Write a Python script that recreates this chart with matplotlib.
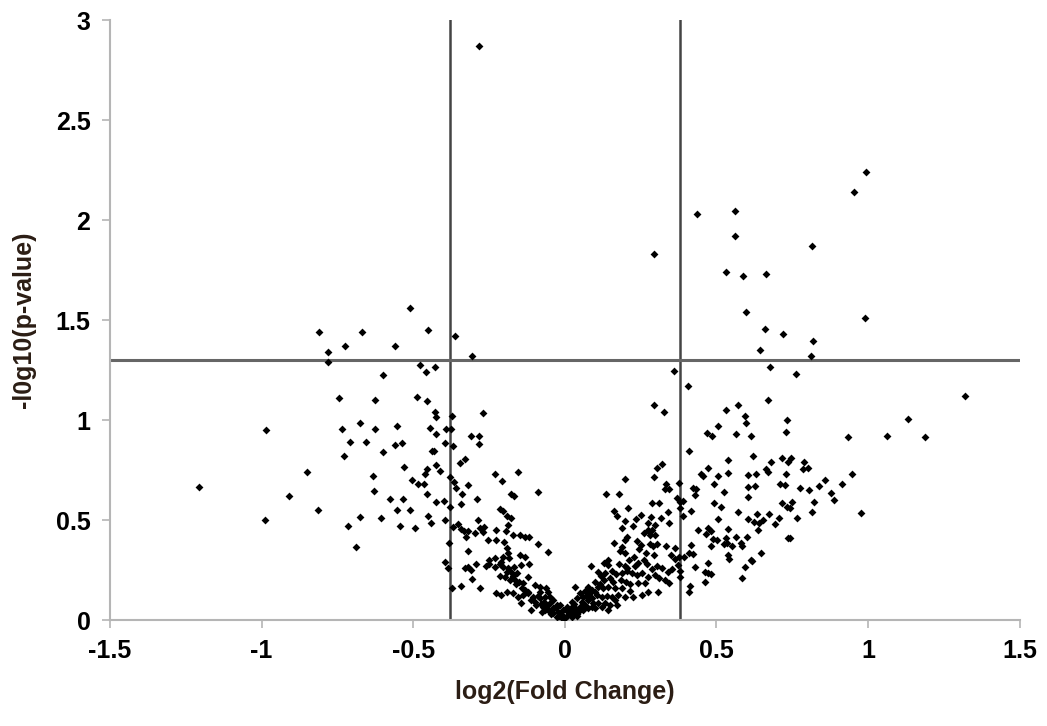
import numpy as np
import matplotlib.pyplot as plt

# thresholds drawn as guide lines
fc_cut = 0.38
p_cut = 1.301

# (log2 fold change, -log10 p), grouped by region
top_points = [(-0.283, 2.87), (0.294, 1.83), (0.436, 2.03), (0.56, 2.045), (0.56, 1.92),
              (0.815, 1.87), (0.955, 2.14), (0.993, 2.24), (0.531, 1.743), (0.588, 1.72),
              (0.664, 1.73), (0.596, 1.54), (0.989, 1.51), (-0.51, 1.56)]

left_upper = [(-0.81, 1.44), (-0.78, 1.34), (-0.78, 1.29), (-0.745, 1.11), (-0.985, 0.95),
              (-0.67, 1.44), (-0.45, 1.45), (-0.725, 1.37), (-0.56, 1.37), (-0.363, 1.42),
              (-0.305, 1.32), (-0.476, 1.275), (-0.428, 1.267), (-0.458, 1.24), (-0.60, 1.225),
              (-0.626, 1.10), (-0.487, 1.115), (-0.456, 1.095), (-0.427, 1.04), (-0.426, 1.015),
              (-0.373, 1.02), (-0.27, 1.035), (-0.674, 0.985), (-0.735, 0.955), (-0.625, 0.957),
              (-0.552, 0.97), (-0.445, 0.96), (-0.426, 0.933), (-0.393, 0.958), (-0.374, 0.955),
              (-0.31, 0.92), (-0.283, 0.92)]

left_outer = [(-1.205, 0.665), (-0.85, 0.74), (-0.91, 0.62), (-0.815, 0.55), (-0.99, 0.50)]

left_lower = [(-0.710, 0.892), (-0.657, 0.892), (-0.559, 0.877), (-0.537, 0.885), (-0.394, 0.883),
              (-0.368, 0.87), (-0.283, 0.88), (-0.727, 0.818), (-0.598, 0.838), (-0.439, 0.845),
              (-0.43, 0.847), (-0.532, 0.765), (-0.347, 0.787), (-0.328, 0.803), (-0.424, 0.775),
              (-0.413, 0.747), (-0.453, 0.753), (-0.462, 0.728), (-0.634, 0.722), (-0.504, 0.702),
              (-0.485, 0.678), (-0.463, 0.68), (-0.38, 0.713), (-0.365, 0.692), (-0.36, 0.662),
              (-0.318, 0.673), (-0.231, 0.732), (-0.208, 0.695), (-0.156, 0.738), (-0.087, 0.642),
              (-0.628, 0.647), (-0.456, 0.63), (-0.339, 0.632), (-0.289, 0.607), (-0.178, 0.63),
              (-0.168, 0.62), (-0.577, 0.603), (-0.535, 0.603), (-0.424, 0.59), (-0.399, 0.597),
              (-0.344, 0.582), (-0.38, 0.563), (-0.554, 0.552), (-0.509, 0.55), (-0.214, 0.553),
              (-0.204, 0.545), (-0.674, 0.517), (-0.606, 0.508), (-0.45, 0.518), (-0.44, 0.483),
              (-0.396, 0.50), (-0.288, 0.50), (-0.192, 0.52), (-0.176, 0.508), (-0.714, 0.47),
              (-0.542, 0.472), (-0.494, 0.46), (-0.368, 0.467), (-0.352, 0.48), (-0.343, 0.455),
              (-0.333, 0.447), (-0.319, 0.445), (-0.327, 0.417), (-0.297, 0.433), (-0.28, 0.458),
              (-0.267, 0.463), (-0.271, 0.442), (-0.226, 0.45), (-0.195, 0.447), (-0.187, 0.475),
              (-0.171, 0.425), (-0.149, 0.425), (-0.132, 0.417), (-0.118, 0.413), (-0.253, 0.40),
              (-0.226, 0.40), (-0.2, 0.392), (-0.689, 0.367), (-0.381, 0.383), (-0.319, 0.345),
              (-0.192, 0.358), (-0.187, 0.337), (-0.087, 0.38), (-0.054, 0.34), (-0.149, 0.325),
              (-0.132, 0.317), (-0.203, 0.317), (-0.184, 0.308), (-0.396, 0.292), (-0.385, 0.258),
              (-0.330, 0.258), (-0.319, 0.263), (-0.311, 0.25), (-0.294, 0.28), (-0.259, 0.27),
              (-0.25, 0.28), (-0.229, 0.263), (-0.215, 0.28), (-0.203, 0.267), (-0.187, 0.258),
              (-0.167, 0.267), (-0.143, 0.275), (-0.118, 0.28), (-0.176, 0.242), (-0.157, 0.233),
              (-0.305, 0.203), (-0.28, 0.158), (-0.371, 0.158), (-0.343, 0.17), (-0.215, 0.22),
              (-0.198, 0.213), (-0.182, 0.20), (-0.165, 0.20), (-0.151, 0.192), (-0.138, 0.183),
              (-0.120, 0.213), (-0.099, 0.175), (-0.083, 0.167), (-0.061, 0.158), (-0.056, 0.142),
              (-0.226, 0.133), (-0.209, 0.125), (-0.192, 0.142), (-0.171, 0.133), (-0.154, 0.117),
              (-0.138, 0.125), (-0.121, 0.133), (-0.105, 0.117), (-0.083, 0.108), (-0.066, 0.117),
              (-0.05, 0.117), (-0.143, 0.083), (-0.11, 0.05), (-0.094, 0.075), (-0.072, 0.067),
              (-0.05, 0.083), (-0.076, 0.042), (-0.054, 0.05), (-0.038, 0.058), (-0.027, 0.075),
              (-0.038, 0.033), (-0.022, 0.042), (-0.011, 0.025), (-0.027, 0.017), (-0.005, 0.05),
              (-0.016, 0.075), (-0.083, 0.142), (-0.038, 0.10)]

# dense band around the bottom of the V
center_band = [(-0.25, 0.30), (-0.23, 0.31), (-0.21, 0.29), (-0.19, 0.24), (-0.17, 0.22),
               (-0.16, 0.18), (-0.14, 0.16), (-0.13, 0.15), (-0.12, 0.14), (-0.11, 0.10),
               (-0.10, 0.09), (-0.09, 0.12), (-0.08, 0.08), (-0.07, 0.09), (-0.065, 0.05),
               (-0.06, 0.07), (-0.045, 0.03), (-0.03, 0.06), (-0.02, 0.02), (-0.01, 0.01),
               (-0.015, 0.035), (0.01, 0.04), (0.02, 0.06), (0.03, 0.08), (0.04, 0.03),
               (0.055, 0.09), (0.07, 0.12), (0.08, 0.13), (0.09, 0.11), (0.10, 0.14),
               (0.115, 0.18), (0.13, 0.20), (0.15, 0.21), (0.16, 0.19), (0.17, 0.23),
               (0.185, 0.20), (0.20, 0.19), (0.21, 0.30), (0.23, 0.27), (0.26, 0.30)]

right_upper = [(0.644, 1.353), (0.677, 1.265), (0.359, 1.245), (0.407, 1.17), (0.67, 1.10),
               (0.295, 1.078), (0.326, 1.04), (0.571, 1.075), (0.532, 1.05), (0.593, 1.02),
               (0.597, 0.987), (0.506, 0.972), (0.468, 0.938), (0.485, 0.922), (0.565, 0.93),
               (0.613, 0.92), (0.733, 1.0), (0.729, 0.94), (0.66, 1.455), (0.719, 1.43),
               (0.817, 1.397), (0.811, 1.32), (0.763, 1.23)]

right_outer = [(1.321, 1.12), (1.131, 1.008), (0.933, 0.915), (1.063, 0.92), (1.189, 0.915),
               (0.746, 0.81), (0.788, 0.79), (0.786, 0.753), (0.803, 0.76), (0.946, 0.73),
               (0.857, 0.70), (0.838, 0.668), (0.776, 0.66), (0.805, 0.648), (0.913, 0.678),
               (0.878, 0.633), (0.889, 0.60), (0.75, 0.59), (0.743, 0.56), (0.82, 0.59),
               (0.815, 0.54), (0.976, 0.535), (0.765, 0.51), (0.743, 0.41)]

right_lower = [(0.41, 0.847), (0.619, 0.82), (0.538, 0.802), (0.716, 0.808), (0.737, 0.79),
               (0.681, 0.79), (0.662, 0.755), (0.671, 0.742), (0.471, 0.76), (0.448, 0.73),
               (0.454, 0.72), (0.537, 0.737), (0.506, 0.72), (0.604, 0.727), (0.63, 0.728),
               (0.729, 0.73), (0.32, 0.78), (0.303, 0.762), (0.294, 0.715), (0.197, 0.703),
               (0.493, 0.682), (0.604, 0.667), (0.627, 0.672), (0.711, 0.682), (0.726, 0.677),
               (0.334, 0.678), (0.329, 0.655), (0.344, 0.655), (0.375, 0.687), (0.421, 0.658),
               (0.432, 0.655), (0.525, 0.64), (0.136, 0.63), (0.179, 0.63), (0.43, 0.623),
               (0.603, 0.613), (0.369, 0.608), (0.38, 0.59), (0.39, 0.597), (0.493, 0.583),
               (0.515, 0.567), (0.717, 0.587), (0.734, 0.567), (0.287, 0.583), (0.309, 0.583),
               (0.208, 0.562), (0.38, 0.558), (0.415, 0.547), (0.571, 0.542), (0.163, 0.545),
               (0.171, 0.522), (0.34, 0.54), (0.25, 0.525), (0.234, 0.505), (0.283, 0.517),
               (0.318, 0.512), (0.388, 0.522), (0.504, 0.505), (0.604, 0.507), (0.635, 0.53),
               (0.673, 0.53), (0.623, 0.49), (0.639, 0.483), (0.653, 0.50), (0.706, 0.512),
               (0.692, 0.48), (0.199, 0.497), (0.189, 0.46), (0.226, 0.47), (0.273, 0.483),
               (0.297, 0.477), (0.273, 0.45), (0.288, 0.45), (0.344, 0.487), (0.638, 0.45),
               (0.439, 0.45), (0.473, 0.46), (0.481, 0.447), (0.466, 0.428), (0.537, 0.453),
               (0.262, 0.433), (0.281, 0.425), (0.297, 0.425), (0.206, 0.413), (0.198, 0.40),
               (0.735, 0.408), (0.488, 0.405), (0.502, 0.40), (0.532, 0.412), (0.565, 0.413),
               (0.60, 0.413), (0.161, 0.383), (0.237, 0.395), (0.251, 0.375), (0.244, 0.353),
               (0.282, 0.378), (0.289, 0.37), (0.303, 0.378), (0.333, 0.372), (0.364, 0.362),
               (0.189, 0.367), (0.183, 0.345), (0.198, 0.333), (0.415, 0.373), (0.481, 0.37),
               (0.524, 0.38), (0.534, 0.387), (0.55, 0.37), (0.58, 0.387), (0.584, 0.37),
               (0.267, 0.337), (0.294, 0.325), (0.229, 0.317), (0.35, 0.323), (0.364, 0.303),
               (0.377, 0.317), (0.392, 0.313), (0.41, 0.337), (0.422, 0.332), (0.537, 0.325),
               (0.542, 0.307), (0.646, 0.333), (0.613, 0.30), (0.143, 0.30), (0.13, 0.283),
               (0.141, 0.275), (0.085, 0.27), (0.177, 0.278), (0.198, 0.27), (0.206, 0.258),
               (0.242, 0.283), (0.27, 0.278), (0.303, 0.27), (0.288, 0.253), (0.321, 0.258),
               (0.339, 0.242), (0.354, 0.253), (0.374, 0.275), (0.38, 0.245), (0.38, 0.217),
               (0.473, 0.287), (0.462, 0.242), (0.473, 0.233), (0.482, 0.23), (0.43, 0.267),
               (0.594, 0.267), (0.616, 0.293), (0.583, 0.212), (0.11, 0.242), (0.119, 0.22),
               (0.134, 0.233), (0.154, 0.247), (0.187, 0.233), (0.204, 0.247), (0.22, 0.237),
               (0.253, 0.237), (0.237, 0.225), (0.275, 0.217), (0.297, 0.225), (0.31, 0.208),
               (0.33, 0.20), (0.344, 0.183), (0.264, 0.187), (0.242, 0.183), (0.215, 0.178),
               (0.413, 0.172), (0.409, 0.138), (0.462, 0.188), (0.035, 0.165), (0.099, 0.192),
               (0.077, 0.167), (0.066, 0.145), (0.088, 0.15), (0.11, 0.167), (0.127, 0.158),
               (0.143, 0.167), (0.165, 0.162), (0.187, 0.158), (0.215, 0.145), (0.308, 0.142),
               (0.275, 0.142), (0.253, 0.125), (0.05, 0.133), (0.06, 0.117), (0.039, 0.108),
               (0.022, 0.092), (0.105, 0.125), (0.121, 0.117), (0.138, 0.12), (0.154, 0.117),
               (0.165, 0.10), (0.176, 0.125), (0.198, 0.117), (0.226, 0.117), (0.077, 0.10),
               (0.094, 0.083), (0.11, 0.087), (0.132, 0.083), (0.149, 0.075), (0.171, 0.075),
               (0.006, 0.067), (0.017, 0.05), (0.033, 0.058), (0.05, 0.067), (0.066, 0.075),
               (0.044, 0.042), (0.011, 0.025), (0.028, 0.033), (0.06, 0.05), (0.077, 0.058),
               (0.088, 0.067), (0.099, 0.058), (0.121, 0.067), (0.143, 0.05), (0.022, 0.017),
               (0.039, 0.02), (0.0, 0.008)]

groups = [top_points, left_upper, left_outer, left_lower, center_band,
          right_upper, right_outer, right_lower]
pts = np.array([p for g in groups for p in g])

plt.rcParams['font.family'] = ['Liberation Sans', 'DejaVu Sans']

fig = plt.figure(figsize=(10.47, 7.26), dpi=100)
ax = fig.add_axes([0.105, 0.146, 0.869, 0.826])

ax.scatter(pts[:, 0], pts[:, 1], s=16, marker='D', color='black', linewidths=0, zorder=3)

ax.axvline(-fc_cut, color='#444444', lw=1.8, zorder=2)
ax.axvline(fc_cut, color='#444444', lw=1.8, zorder=2)
ax.axhline(p_cut, color='#666666', lw=2.2, zorder=2)

ax.set_xlim(-1.5, 1.5)
ax.set_ylim(0, 3)
ax.set_xticks([-1.5, -1, -0.5, 0, 0.5, 1, 1.5])
ax.set_xticklabels(['-1.5', '-1', '-0.5', '0', '0.5', '1', '1.5'])
ax.set_yticks([0, 0.5, 1, 1.5, 2, 2.5, 3])
ax.set_yticklabels(['0', '0.5', '1', '1.5', '2', '2.5', '3'])

for s in ['top', 'right']:
    ax.spines[s].set_visible(False)
for s in ['left', 'bottom']:
    ax.spines[s].set_color('#b5b5b5')
    ax.spines[s].set_linewidth(1.5)
ax.tick_params(direction='out', length=6, width=1.2, color='#b5b5b5',
               labelsize=18, pad=8)
for lab in ax.get_xticklabels() + ax.get_yticklabels():
    lab.set_fontweight('bold')

ax.set_xlabel('log2(Fold Change)', fontsize=18, fontweight='bold', color='#2b1d14', labelpad=12)
ax.set_ylabel('-l0g10(p-value)', fontsize=18, fontweight='bold', color='#2b1d14', labelpad=14)

fig.savefig('out.png', dpi=100)
